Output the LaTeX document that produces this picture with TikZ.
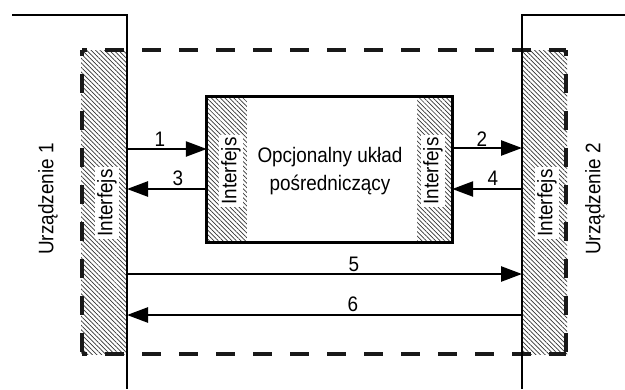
\documentclass[tikz,border=0pt]{standalone}
\usepackage{fontspec}
\setmainfont{Liberation Sans}[FakeStretch=0.9]
\usetikzlibrary{patterns.meta,arrows.meta}
\begin{document}
\begin{tikzpicture}[x=1pt,y=-1pt,
  dev/.style={line width=2.5pt},
  arr/.style={line width=2.5pt,-{Triangle[length=21pt,width=15pt]}},
  hatch/.style={pattern={Lines[angle=135,distance=3.2pt,line width=0.7pt]},pattern color=black!80},
  dashbox/.style={line width=3.8pt,dash pattern=on 18.5pt off 18.5pt,color=black!90},
  lbl/.style={font=\fontsize{21}{28}\selectfont,inner sep=1pt},
  ifc/.style={lbl,rotate=90,fill=white,inner sep=2pt}]
\useasboundingbox (0,0) rectangle (625,389);
% outer interface hatching
\fill[hatch] (81,50) rectangle (127,354);
\fill[hatch] (522,50) rectangle (567,354);
% middle box
\path node[minimum width=245pt,minimum height=145pt,inner sep=0pt] (box) at (329.5,169.5) {};
\fill[hatch] (box.north west) rectangle ([xshift=40pt]box.south west);
\fill[hatch] ([xshift=-35pt]box.north east) rectangle (box.south east);
\draw[line width=2.8pt] (box.north west) rectangle (box.south east);
% dashed frame
\draw[dashbox,dash phase=14pt] (82,50) -- (566,50);
\draw[dashbox,dash phase=14pt] (82,354) -- (566,354);
\draw[dashbox,dash phase=13pt] (82,50) -- (82,354);
\draw[dashbox,dash phase=13pt] (566,50) -- (566,354);
% device lines
\coordinate (l0) at (12,15);
\coordinate (l1) at (127,15);
\coordinate (l2) at (127,389);
\coordinate (r0) at (625,15);
\coordinate (r1) at (522,15);
\coordinate (r2) at (522,389);
\draw[dev] (l0) -- (l1) -- (l2);
\draw[dev] (r0) -- (r1) -- (r2);
% arrow end points on the device lines
\coordinate (a1) at (127,149);
\coordinate (a3) at (127,189);
\coordinate (a2) at (522,148);
\coordinate (a4) at (522,189);
\coordinate (a5l) at (127,274);
\coordinate (a5r) at (522,274);
\coordinate (a6l) at (127,315);
\coordinate (a6r) at (522,315);
\draw[arr] (a1) -- (box.west |- a1);
\draw[arr] (box.west |- a3) -- (a3);
\draw[arr] (box.east |- a2) -- (a2);
\draw[arr] (a4) -- (box.east |- a4);
\draw[arr] (a5l) -- (a5r);
\draw[arr] (a6r) -- (a6l);
% numbers
\node[lbl] (n1) at (160,139) {1};
\node[lbl] (n3) at (178,178) {3};
\node[lbl] (n2) at (482,139) {2};
\node[lbl] (n4) at (493,178) {4};
\node[lbl] (n5) at (354,264) {5};
\node[lbl] (n6) at (353,304) {6};
% texts
\node[lbl,align=center] (mid) at (330,171) {Opcjonalny układ\\pośredniczący};
\node[ifc] (if1) at (107,203) {Interfejs};
\node[ifc] (if2) at (547,203) {Interfejs};
\node[ifc] (if3) at (231,171) {Interfejs};
\node[ifc] (if4) at (433,171) {Interfejs};
\node[lbl,rotate=90] (u1) at (48,199) {Urządzenie 1};
\node[lbl,rotate=90] (u2) at (595,199) {Urządzenie 2};
\end{tikzpicture}
\end{document}
